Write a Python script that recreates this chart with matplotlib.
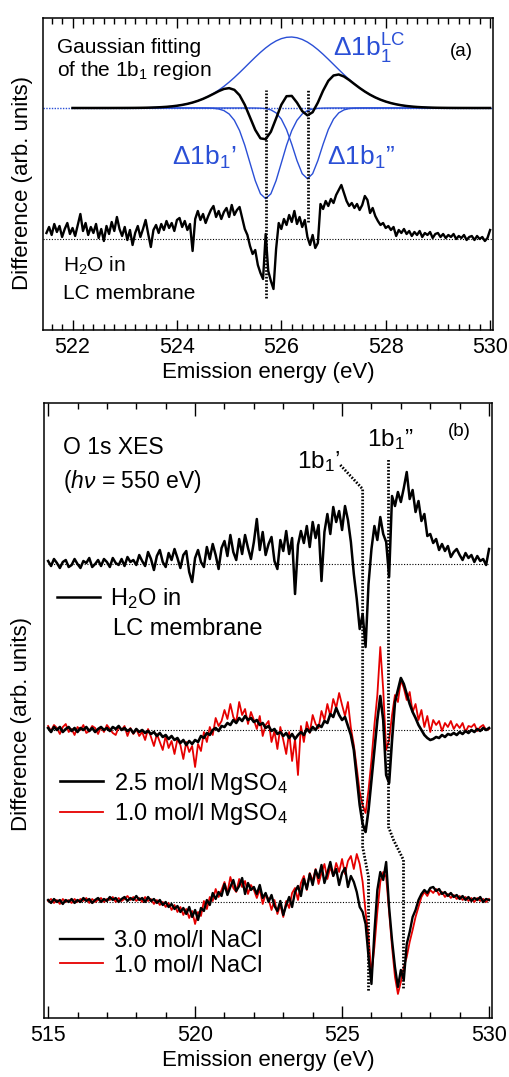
import numpy as np
import matplotlib.pyplot as plt
from matplotlib.ticker import MultipleLocator, FormatStrFormatter

plt.rcParams["font.family"] = ["Liberation Sans", "DejaVu Sans"]
plt.rcParams["mathtext.fontset"] = "custom"
plt.rcParams["mathtext.rm"] = "Liberation Sans"
plt.rcParams["mathtext.it"] = "Liberation Sans:italic"

BLUE = "#2a4fd6"
RED = "#e60000"
DOT = (0, (0.6, 0.6))

# ---------------- panel (a) ----------------
# H2O in LC membrane, difference spectrum, 521.5 - 530 eV, every 0.05 eV
a_start, a_step = 521.5, 0.05
h2o_a = [
    0.6, 1.2, 0.4, 1.5, 0.7, 1.3, 0.2, 1.0, 1.6, 0.5,
    1.1, 0.3, 1.4, 2.5, 0.8, 1.6, 0.4, 1.2, 0.6, 1.5,
    0.1, 1.0, -0.2, 1.3, 0.5, 1.7, 0.8, 2.2, 1.0, 0.3,
    1.2, -0.1, 0.9, -0.6, 0.6, 1.3, 0.2, 1.0, 1.9, 0.5,
    -0.8, 0.9, 1.4, 0.6, 1.5, 0.9, 1.8, 1.1, 1.6, 0.8,
    1.9, 2.1, 1.2, 1.8, 0.9, 1.5, -1.2, 2.0, 2.8, 1.9,
    2.5, 1.6, 2.3, 2.9, 3.3, 2.2, 2.8, 2.0, 2.7, 3.1,
    2.2, 3.4, 2.4, 2.9, 3.2, 2.1, 1.0, 0.4, -0.7, -1.5,
    -1.1, -2.6, -3.4, -4.0, 0.5, -3.2, -4.2, -5.0, -1.0, 1.6,
    1.0, 2.0, 1.4, 2.4, 1.7, 2.8, 1.5, 2.2, 1.2, 1.9,
    0.2, -0.6, 0.4, -0.9, -0.4, 3.5, 3.0, 3.8, 3.3, 4.0,
    3.6, 4.4, 4.9, 5.4, 4.6, 3.8, 3.3, 3.6, 3.1, 3.5,
    2.9, 3.4, 4.3, 3.9, 2.6, 3.1, 2.3, 1.8, 1.4, 1.6,
    1.1, 1.3, 0.9, 1.2, 0.3, 0.9, 0.6, 1.0, 0.5, 0.8,
    0.3, 0.7, 0.4, 0.8, 0.2, 0.6, 0.4, 0.7, 0.1, 0.5,
    0.6, 0.2, 0.5, 0.1, 0.4, 0.2, 0.5, 0.0, 0.3, 0.1,
    0.4, -0.1, 0.2, 0.3, -0.1, 0.3, 0.0, 0.2, -0.2, 0.1,
    0.9,
]

# Gaussian components of the 1b1 fit, 522 - 530 eV, every 0.1 eV
fit_start, fit_step = 522.0, 0.1
fit_lc = [
    0, 0, 0, 0, 0, 0, 0.001, 0.001, 0.002, 0.003,
    0.005, 0.007, 0.011, 0.017, 0.026, 0.039, 0.057, 0.082, 0.116, 0.163,
    0.226, 0.308, 0.413, 0.546, 0.713, 0.916, 1.161, 1.448, 1.783, 2.163,
    2.586, 3.046, 3.537, 4.048, 4.566, 5.076, 5.562, 6.007, 6.394, 6.707,
    6.935, 7.067, 7.098, 7.026, 6.855, 6.592, 6.247, 5.835, 5.372, 4.874,
    4.359, 3.842, 3.337, 2.857, 2.411, 2.005, 1.644, 1.328, 1.057, 0.829,
    0.642, 0.489, 0.368, 0.272, 0.199, 0.143, 0.101, 0.071, 0.049, 0.033,
    0.022, 0.015, 0.009, 0.006, 0.004, 0.002, 0.001, 0, 0, 0,
    0,
]
fit_1b1p = [
    0, 0, 0, 0, 0, 0, 0, 0, 0, 0,
    0, 0, 0, 0, 0, 0, 0, 0, 0, 0,
    0, 0, 0, 0, 0, -0.003, -0.011, -0.035, -0.10, -0.26,
    -0.60, -1.23, -2.26, -3.73, -5.50, -7.26, -8.58, -9.07, -8.58, -7.26,
    -5.50, -3.73, -2.26, -1.23, -0.60, -0.26, -0.10, -0.035, -0.011, -0.003,
    0, 0, 0, 0, 0, 0, 0, 0, 0, 0,
    0, 0, 0, 0, 0, 0, 0, 0, 0, 0,
    0, 0, 0, 0, 0, 0, 0, 0, 0, 0,
    0,
]
fit_1b1pp = [
    0, 0, 0, 0, 0, 0, 0, 0, 0, 0,
    0, 0, 0, 0, 0, 0, 0, 0, 0, 0,
    0, 0, 0, 0, 0, 0, 0, 0, 0, 0,
    0, 0, 0, 0, 0, -0.004, -0.018, -0.06, -0.19, -0.49,
    -1.11, -2.16, -3.63, -5.26, -6.57, -7.07, -6.57, -5.26, -3.63, -2.16,
    -1.11, -0.49, -0.19, -0.06, -0.018, -0.004, 0, 0, 0, 0,
    0, 0, 0, 0, 0, 0, 0, 0, 0, 0,
    0, 0, 0, 0, 0, 0, 0, 0, 0, 0,
    0,
]
fit_offset = 13.1
peaks_a = [525.70, 526.52]
peak_tops = [14.9, 14.9]
peak_bottoms = [-5.9, 1.7]

# ---------------- panel (b) ----------------
b_start, b_step = 515.0, 0.1
h2o_b = [
    0.3, -0.2, 0.5, 0.1, -0.4, 0.2, 0.4, -0.3, -0.1, 0.5,
    0.0, -0.4, 0.3, 0.1, 0.6, -0.3, 0.0, 0.4, -0.2, 0.5,
    0.2, -0.3, 0.6, 0.1, -0.1, 0.5, -0.2, 0.7, 0.2, 0.4,
    -0.1, 0.9, 0.3, -0.2, 1.2, 0.5, -0.6, 0.8, 1.4, 0.2,
    -0.3, 1.1, 0.4, 1.5, 0.6, -0.4, 0.9, 1.3, -0.8, -1.8,
    0.6, 1.4, 0.2, -0.3, 1.7, 0.5, 2.0, 0.9, -0.5, 1.6,
    2.3, 0.8, 2.9, 1.2, 0.4, 2.5, 1.0, 2.9, 1.6, 0.5,
    2.2, 4.5, 1.4, 3.2, 0.9, 2.0, 2.7, 0.3, -0.5, 2.4,
    1.3, 3.3, 1.0, 2.6, -3.0, 1.9, 3.3, 2.1, 3.8, 1.7,
    4.2, 2.6, 3.9, -1.7, 3.2, 5.0, 3.0, 5.7, 4.2, 5.3,
    3.4, 5.8, 4.4, 2.2, -1.0, -3.5, -6.5, -5.0, -8.3, -2.0,
    1.5, 3.8, 2.4, 4.7, 3.0, 2.2, -1.3, 6.8, 5.8, 7.2,
    6.2, 7.6, 9.2, 6.5, 7.4, 5.2, 6.3, 4.3, 5.0, 2.8,
    3.0, 2.1, 2.5, 1.4, 2.0, 1.3, 1.8, 0.7, 1.2, 1.5,
    0.9, 0.4, 1.1, 0.6, 0.9, 0.2, 0.8, 0.3, 0.5, -0.1,
    1.5,
]
mgso4_25 = [
    0.2, -0.2, 0.3, 0.0, 0.3, -0.2, 0.1, 0.3, -0.1, 0.2,
    -0.2, 0.2, 0.0, 0.3, -0.1, 0.2, -0.2, 0.1, 0.3, 0.0,
    0.2, -0.1, 0.3, 0.1, 0.4, 0.0, 0.2, -0.1, 0.1, -0.3,
    0.1, -0.2, 0.0, -0.3, -0.1, -0.4, -0.2, -0.6, -0.3, -0.7,
    -0.5, -0.9, -0.6, -1.0, -0.8, -1.3, -1.0, -1.5, -1.1, -1.4,
    -1.0, -1.2, -0.6, -0.8, -0.3, -0.5, 0.0, 0.2, -0.1, 0.4,
    0.3, 0.7, 0.5, 1.0, 0.7, 1.2, 0.9, 1.4, 1.0, 1.2,
    0.8, 1.0, 0.5, 0.7, 0.2, 0.4, -0.1, 0.1, -0.4, -0.2,
    -0.6, -0.3, -0.8, -0.4, -0.9, -0.5, -0.2, -0.5, 0.1, -0.2,
    0.3, 0.0, 0.5, 0.3, 0.9, 0.7, 1.6, 1.3, 2.2, 1.5,
    1.0, 1.3, 0.4, -0.5, -2.0, -4.8, -7.5, -9.4, -10.2, -8.0,
    -5.0, -2.0, 1.0, 3.4, 1.0, -4.5, -5.3, -1.0, 2.8, 4.0,
    5.2, 4.6, 3.6, 2.6, 1.8, 1.2, 0.5, 0.0, -0.5, -0.8,
    -1.0, -0.9, -0.7, -0.8, -0.5, -0.7, -0.4, -0.5, -0.3, -0.5,
    -0.2, -0.4, -0.1, -0.3, 0.0, -0.2, 0.1, -0.1, 0.2, 0.0,
    0.2,
]
mgso4_10 = [
    0.4, -0.1, 0.5, 0.2, -0.4, 0.3, 0.6, -0.2, 0.1, -0.5,
    0.3, 0.0, 0.5, -0.3, -0.1, 0.4, 0.2, -0.4, 0.3, -0.2,
    0.5, 0.1, -0.3, -0.5, 0.3, 0.0, 0.4, -0.6, 0.2, -0.4,
    0.1, -0.6, -0.2, -1.0, 0.1, -0.7, -1.6, -0.4, -1.2, -2.0,
    -0.6, -1.8, -1.1, -2.4, -0.9, -1.5, -2.9, -1.2, -2.2, -1.6,
    -3.7, -1.4, -2.1, -0.2, -1.2, 0.3, -0.5, 1.2, 0.4, 0.9,
    2.0, 1.1, 2.6, 1.3, 0.8, 2.8, 1.5, 2.1, 0.6, 1.8,
    1.0, 0.1, 1.4, -0.6, 0.5, 0.9, -1.2, -0.1, -1.9, 0.3,
    -1.0, -2.4, -0.2, -3.1, -0.9, -4.5, 0.4, -1.2, 0.8, -0.3,
    1.5, 0.6, 0.2, 1.9, 1.0, 2.6, 1.4, 3.1, 2.2, 3.7,
    2.5, 1.4, 2.8, 0.2, -1.5, -3.8, -6.2, -7.5, -8.3, -6.0,
    -3.0, 0.5, 3.5, 8.3, 4.0, -2.0, -1.0, 1.5, 3.5, 2.8,
    5.0, 4.2, 3.0, 3.8, 1.8, 2.6, 1.0, 2.0, 0.3, 1.4,
    -0.2, 1.0, 0.5, 0.9, -0.1, 0.7, 0.3, 0.9, 0.1, 0.6,
    0.2, 0.7, -0.2, 0.4, 0.3, 0.6, -0.1, 0.3, 0.5, 0.0,
    0.1,
]
nacl_30 = [
    0.2, -0.1, 0.3, 0.0, 0.2, -0.2, 0.2, 0.0, 0.3, -0.1,
    0.2, 0.0, 0.4, 0.1, 0.3, -0.1, 0.2, 0.4, 0.0, 0.3,
    0.1, 0.5, 0.2, 0.4, 0.0, 0.3, 0.5, 0.1, 0.4, 0.2,
    0.6, 0.2, 0.4, 0.0, 0.5, 0.1, 0.3, -0.1, 0.2, -0.3,
    0.0, -0.5, -0.2, -0.7, -0.4, -1.0, -0.6, -1.2, -0.5, -1.5,
    -0.8, -1.8, -0.6, -0.9, 0.2, -0.3, 0.9, 0.3, 1.0, 0.6,
    1.8, 0.7, 1.5, 2.2, 1.1, 1.6, 2.4, 0.8, 1.9, 1.2,
    1.5, 0.8, 1.7, 0.4, 0.9, 0.0, 0.7, -0.4, -0.9, 0.1,
    -1.3, -0.3, 0.5, -0.5, 1.0, 1.6, 0.6, 2.3, 1.3, 2.8,
    1.7, 3.2, 2.4, 3.7, 1.9, 2.9, 4.0, 2.6, 3.3, 1.7,
    2.9, 3.4, 1.5, 2.6, 2.0, 1.0, -0.5, -1.0, -2.2, -5.5,
    -8.2, -3.0, 1.2, 3.0, 2.2, 4.0, -0.5, -3.8, -6.5, -8.5,
    -6.8, -7.8, -4.2, -3.0, -1.5, -0.8, 0.2, 0.8, 1.2, 0.9,
    1.4, 1.5, 1.1, 1.3, 0.8, 1.0, 0.6, 0.9, 0.5, 0.7,
    0.3, 0.6, 0.2, 0.5, 0.1, 0.4, 0.2, 0.5, 0.0, 0.3,
    0.2,
]
nacl_10 = [
    0.1, 0.3, -0.1, 0.2, -0.2, 0.3, 0.0, 0.2, -0.1, 0.3,
    0.0, 0.3, 0.1, 0.4, -0.1, 0.3, 0.0, 0.2, 0.4, 0.0,
    0.3, 0.2, 0.5, 0.0, 0.4, 0.1, 0.3, 0.6, 0.2, 0.5,
    0.1, 0.4, 0.0, 0.5, 0.1, 0.3, -0.2, 0.2, -0.3, 0.0,
    -0.5, -0.1, -0.8, -0.3, -1.0, -0.5, -1.3, -0.7, -1.6, -0.9,
    -2.2, -1.0, -1.4, 0.1, -0.7, 0.5, 0.1, 1.3, 0.5, 1.2,
    2.0, 0.9, 2.5, 1.4, 1.0, 2.3, 1.5, 2.1, 0.8, 1.7,
    1.2, 0.4, 1.3, -0.2, 0.8, 0.3, -0.8, 0.2, -1.2, -0.3,
    -1.5, 0.1, -0.6, 0.9, 1.4, 0.2, 1.9, 2.6, 1.2, 2.9,
    2.1, 3.3, 1.8, 2.9, 3.8, 2.3, 3.5, 2.6, 3.9, 3.0,
    4.3, 2.8, 4.1, 4.6, 3.3, 4.8, 3.8, 2.0, -1.0, -3.5,
    -7.2, -4.5, -1.0, 2.0, 3.0, 2.5, -1.0, -4.5, -7.5, -9.2,
    -8.0, -6.5, -5.5, -4.0, -2.8, -1.5, -0.5, 0.5, 1.0, 0.6,
    1.2, 0.9, 1.3, 0.7, 1.0, 0.5, 0.8, 0.4, 0.7, 0.3,
    0.6, 0.2, 0.5, 0.1, 0.4, 0.0, 0.4, 0.1, 0.3, 0.0,
    0.3,
]
offset_h2o, offset_mg, offset_na = 33.8, 17.2, 0.0

# dotted guides following the 1b1' and 1b1'' components
guide_p_x = [524.94, 525.70, 525.70, 525.90, 525.90]
guide_p_y = [43.7, 41.3, 5.5, 2.5, -9.0]
guide_pp_x = [526.58, 526.58, 526.75, 526.92, 527.09, 527.09]
guide_pp_y = [44.2, 7.5, 6.2, 5.2, 4.2, -8.8]


def style_axis(ax, major, minor):
    ax.xaxis.set_major_locator(MultipleLocator(major))
    ax.xaxis.set_minor_locator(MultipleLocator(minor))
    ax.xaxis.set_major_formatter(FormatStrFormatter("%d"))
    ax.tick_params(axis="x", which="both", direction="in", top=True,
                   bottom=True, width=1.0, labelsize=15.5, pad=5)
    ax.tick_params(axis="x", which="major", length=7.5)
    ax.tick_params(axis="x", which="minor", length=4.2)
    ax.set_yticks([])
    for sp in ax.spines.values():
        sp.set_linewidth(1.1)
    ax.set_xlabel("Emission energy (eV)", fontsize=16, labelpad=3)


fig = plt.figure(figsize=(5.09, 10.77), dpi=100)

# ---- (a) ----
ax_a = fig.add_axes([0.0851, 0.6936, 0.8829, 0.2897])
e_a = a_start + a_step * np.arange(len(h2o_a))
e_fit = fit_start + fit_step * np.arange(len(fit_lc))
lc = np.array(fit_lc)
g1 = np.array(fit_1b1p)
g2 = np.array(fit_1b1pp)

ax_a.axhline(fit_offset, color=BLUE, lw=1.0, ls=(0, (1, 1)))
ax_a.plot(e_fit, g1 + fit_offset, color=BLUE, lw=1.0)
ax_a.plot(e_fit, g2 + fit_offset, color=BLUE, lw=1.0)
ax_a.plot(e_fit, lc + fit_offset, color=BLUE, lw=1.0)
ax_a.plot(e_fit, lc + g1 + g2 + fit_offset, color="black", lw=1.8)

ax_a.axhline(0, color="black", lw=0.8, ls=(0, (1, 1.5)))
ax_a.plot(e_a, h2o_a, color="black", lw=1.7)
ax_a.vlines(peaks_a, peak_bottoms, peak_tops, colors="black", lw=2.0,
            linestyles=DOT, zorder=5)

ax_a.set_xlim(521.44, 530.05)
ax_a.set_ylim(-9.1, 22.1)
style_axis(ax_a, 2, 0.2)
ax_a.set_ylabel("Difference (arb. units)", fontsize=16)
ax_a.yaxis.set_label_coords(-0.023, 0.47)

t = ax_a.transAxes
ax_a.text(0.031, 0.888, "Gaussian fitting", fontsize=15, transform=t)
ax_a.text(0.031, 0.814, "of the 1b$_1$ region", fontsize=15, transform=t)
ax_a.text(0.645, 0.876, "Δ1b$_1^{\\mathrm{LC}}$", fontsize=19,
          color=BLUE, transform=t)
ax_a.text(0.905, 0.878, "(a)", fontsize=13.5, transform=t)
ax_a.text(0.287, 0.529, "Δ1b$_1$’", fontsize=19, color=BLUE, transform=t)
ax_a.text(0.632, 0.529, "Δ1b$_1$”", fontsize=19, color=BLUE, transform=t)
ax_a.text(0.044, 0.187, "H$_2$O in", fontsize=15, transform=t)
ax_a.text(0.044, 0.099, "LC membrane", fontsize=15, transform=t)

# ---- (b) ----
ax_b = fig.add_axes([0.0870, 0.0548, 0.8790, 0.5710])
e_b = b_start + b_step * np.arange(len(h2o_b))

ax_b.hlines([offset_h2o, offset_mg, offset_na], e_b[0], e_b[-1],
            colors="black", lw=0.8, linestyles=(0, (1, 1.5)))
l_h2o, = ax_b.plot(e_b, np.array(h2o_b) + offset_h2o, color="black",
                   lw=1.8, label="H$_2$O in")
l_mg10, = ax_b.plot(e_b, np.array(mgso4_10) + offset_mg, color=RED,
                    lw=1.3, label="1.0 mol/l MgSO$_4$")
l_mg25, = ax_b.plot(e_b, np.array(mgso4_25) + offset_mg, color="black",
                    lw=1.9, label="2.5 mol/l MgSO$_4$")
l_na10, = ax_b.plot(e_b, np.array(nacl_10) + offset_na, color=RED,
                    lw=1.3, label="1.0 mol/l NaCl")
l_na30, = ax_b.plot(e_b, np.array(nacl_30) + offset_na, color="black",
                    lw=1.7, label="3.0 mol/l NaCl")

ax_b.plot(guide_p_x, guide_p_y, color="black", lw=2.0, ls=DOT, zorder=5)
ax_b.plot(guide_pp_x, guide_pp_y, color="black", lw=2.0, ls=DOT, zorder=5)

ax_b.set_xlim(514.87, 530.09)
ax_b.set_ylim(-11.6, 49.9)
style_axis(ax_b, 5, 1)
ax_b.tick_params(axis="x", which="major", length=9)
ax_b.set_ylabel("Difference (arb. units)", fontsize=16)
ax_b.yaxis.set_label_coords(-0.028, 0.478)

leg_kw = dict(frameon=False, fontsize=17, handlelength=1.82,
              handletextpad=0.45, borderpad=0, borderaxespad=0,
              loc="center left")
leg1 = ax_b.legend(handles=[l_h2o], bbox_to_anchor=(0.028, 0.682), **leg_kw)
ax_b.add_artist(leg1)
leg2 = ax_b.legend(handles=[l_mg25, l_mg10], bbox_to_anchor=(0.035, 0.356),
                   labelspacing=0.2, **leg_kw)
ax_b.add_artist(leg2)
ax_b.legend(handles=[l_na30, l_na10], bbox_to_anchor=(0.035, 0.105),
            labelspacing=0.1, **leg_kw)

t = ax_b.transAxes
ax_b.text(0.154, 0.6228, "LC membrane", fontsize=17, transform=t)
ax_b.text(0.042, 0.9166, "O 1s XES", fontsize=16.5, transform=t)
ax_b.text(0.042, 0.861, r"($h\nu$ = 550 eV)", fontsize=16.5, transform=t)
ax_b.text(0.902, 0.946, "(b)", fontsize=13.5, transform=t)
ax_b.text(0.565, 0.894, "1b$_1$’", fontsize=17.5, transform=t)
ax_b.text(0.721, 0.9306, "1b$_1$”", fontsize=17.5, transform=t)

fig.savefig("out.png", dpi=100)
